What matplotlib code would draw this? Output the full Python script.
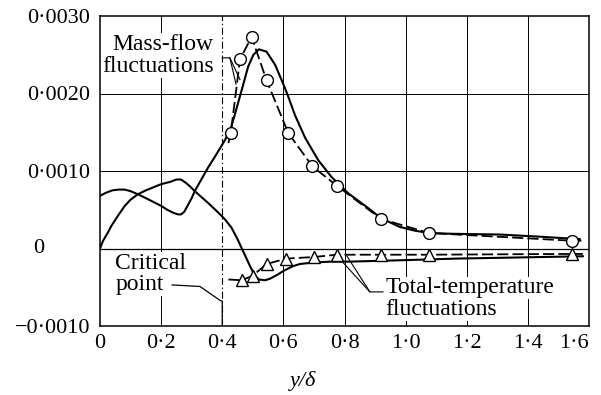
import matplotlib
matplotlib.use('Agg')
import matplotlib.pyplot as plt

plt.rcParams['font.family'] = ['Liberation Serif', 'DejaVu Serif']
plt.rcParams['lines.scale_dashes'] = False

# mass-flow fluctuations, smooth curve
mf_x = [0, 0.02, 0.04, 0.06, 0.081, 0.10, 0.124, 0.15, 0.175, 0.20, 0.22, 0.24,
        0.255, 0.265, 0.275, 0.285, 0.30, 0.31, 0.33, 0.353, 0.38, 0.409, 0.428,
        0.442, 0.464, 0.485, 0.502, 0.52, 0.545, 0.573, 0.60, 0.616, 0.638, 0.671,
        0.714, 0.758, 0.813, 0.878, 0.92, 0.98, 1.03, 1.077, 1.15, 1.31, 1.45, 1.57]
mf_y = [0.00068, 0.00072, 0.00075, 0.00076, 0.00076, 0.00074, 0.00070, 0.00065,
        0.00060, 0.00055, 0.00050, 0.00046, 0.00044, 0.00044, 0.00047, 0.00054,
        0.00065, 0.00074, 0.00088, 0.00104, 0.00121, 0.00140, 0.00155, 0.00174,
        0.00205, 0.00235, 0.00250, 0.00257, 0.00254, 0.00237, 0.00212, 0.00196,
        0.00172, 0.00143, 0.00114, 0.00092, 0.00071, 0.00052, 0.00039, 0.00028,
        0.00023, 0.00020, 0.00019, 0.00018, 0.00015, 0.00012]

# mass-flow fluctuations, measured (circles, dashed)
mf_pts_x = [0.428, 0.458, 0.496, 0.545, 0.616, 0.695, 0.775, 0.92, 1.077, 1.545]
mf_pts_y = [0.00149, 0.00244, 0.00273, 0.00217, 0.00149, 0.00106, 0.00081,
            0.00038, 0.00020, 0.00010]
mf_dash_x = [0.42] + mf_pts_x + [1.575]
mf_dash_y = [0.00136] + mf_pts_y + [0.00010]

# total-temperature fluctuations, smooth curve
tt_x = [0, 0.01, 0.025, 0.037, 0.06, 0.081, 0.10, 0.124, 0.15, 0.175, 0.20, 0.23,
        0.25, 0.265, 0.28, 0.295, 0.31, 0.33, 0.353, 0.38, 0.408, 0.43, 0.45, 0.47,
        0.49, 0.505, 0.52, 0.54, 0.556, 0.58, 0.60, 0.63, 0.654, 0.70, 0.753,
        0.81, 1.0, 1.167, 1.31, 1.58]
tt_y = [0.0, 0.00010, 0.00020, 0.00029, 0.00043, 0.00055, 0.00063, 0.00070,
        0.00075, 0.00079, 0.00083, 0.00086, 0.00089, 0.00089, 0.00085, 0.00080,
        0.00074, 0.00067, 0.00059, 0.00049, 0.00038, 0.00027, 0.00012, -0.00005,
        -0.00022, -0.00034, -0.00040, -0.00041, -0.00039, -0.00034, -0.00029,
        -0.00023, -0.00020, -0.00018, -0.00017, -0.00017, -0.00015, -0.00013,
        -0.00012, -0.00010]

# total-temperature fluctuations, measured (triangles, dashed)
tt_pts_x = [0.464, 0.50, 0.545, 0.61, 0.70, 0.774, 0.92, 1.075, 1.543]
tt_pts_y = [-0.00041, -0.00035, -0.00020, -0.00013, -0.00011, -0.00008,
            -0.00008, -0.00008, -0.00007]
tt_dash_x = [0.42] + tt_pts_x + [1.58]
tt_dash_y = [-0.00040] + tt_pts_y + [-0.00007]

xticks = [0, 0.2, 0.4, 0.6, 0.8, 1.0, 1.2, 1.4, 1.6]
xlabels = ['0', '0·2', '0·4', '0·6', '0·8', '1·0', '1·2', '1·4', '1·6']
yticks = [-0.001, 0, 0.001, 0.002, 0.003]
ylabels = ['\u22120·0010', '', '0·0010', '0·0020', '0·0030']

fig = plt.figure(figsize=(6.01, 3.95), dpi=100)
ax = fig.add_axes([100/601, 1-326/395, 489/601, 310/395])
ax.set_xlim(0, 1.6)
ax.set_ylim(-0.001, 0.003)

# grid
for xv in xticks[1:-1]:
    if xv == 0.4:
        ax.axvline(xv, color='k', lw=0.8, ls=(0, (5, 2, 1, 2)), zorder=1)
    else:
        ax.axvline(xv, color='k', lw=0.7, zorder=1)
for yv in yticks[1:-1]:
    ax.axhline(yv, color='k', lw=0.7 if yv else 0.9, zorder=1)

ax.plot(mf_x, mf_y, color='k', lw=1.5, zorder=4)
ax.plot(tt_x, tt_y, color='k', lw=1.5, zorder=4)
ax.plot(mf_dash_x, mf_dash_y, color='k', lw=1.3, dashes=(8, 3), zorder=4)
ax.plot(tt_dash_x, tt_dash_y, color='k', lw=1.3, dashes=(8, 3), zorder=4)
ax.plot(mf_pts_x, mf_pts_y, 'o', ms=8.5, mfc='white', mec='k', mew=1.0, zorder=5)
ax.plot(tt_pts_x, tt_pts_y, '^', ms=8.5, mfc='white', mec='k', mew=1.0, zorder=5)

for s in ax.spines.values():
    s.set_linewidth(1.1)

ax.set_xticks(xticks)
ax.set_xticklabels(xlabels)
ax.set_yticks(yticks)
ax.set_yticklabels(ylabels)
ax.tick_params(length=0, labelsize=16, colors='k')
ax.tick_params(axis='y', pad=7)
ax.tick_params(axis='x', pad=6)
ax.get_xticklabels()[-1].set_ha('right')
# the zero label sits further left in the original
ax.text(-0.125, 0, '0', fontsize=16, ha='center', va='center',
        transform=ax.get_yaxis_transform())

fig.text(303/601, 1-381/395, 'y/δ', fontsize=16, style='italic',
         ha='center', va='center')

box = dict(facecolor='white', edgecolor='none', pad=0.5)
fs = 17
# labels
ax.text(0.372, 0.00256, 'Mass-flow', fontsize=fs, ha='right', va='baseline',
        bbox=box, zorder=3)
ax.text(0.372, 0.00228, 'fluctuations', fontsize=fs, ha='right', va='baseline',
        bbox=box, zorder=3)
ax.plot([0.40, 0.425, 0.458], [0.00246, 0.00246, 0.00218], color='k', lw=0.8, zorder=3)
ax.plot([0.425, 0.445], [0.00246, 0.00212], color='k', lw=0.8, zorder=3)

ax.text(0.049, -0.00026, 'Critical', fontsize=fs, ha='left', va='baseline',
        bbox=box, zorder=3)
ax.text(0.052, -0.00054, 'point', fontsize=fs, ha='left', va='baseline',
        bbox=box, zorder=3)
ax.plot([0.236, 0.327, 0.393, 0.4, 0.4], [-0.00047, -0.00049, -0.00067, -0.00068, -0.001],
        color='k', lw=0.9, zorder=3)

ax.text(0.933, -0.00058, 'Total-temperature', fontsize=fs, ha='left', va='baseline',
        bbox=box, zorder=3)
ax.text(0.933, -0.00086, 'fluctuations', fontsize=fs, ha='left', va='baseline',
        bbox=box, zorder=3)
ax.plot([0.926, 0.883, 0.805], [-0.00056, -0.00056, -0.00008], color='k', lw=0.8, zorder=3)
ax.plot([0.883, 0.795], [-0.00056, -0.00018], color='k', lw=0.8, zorder=3)

fig.savefig('out.png', dpi=100)
